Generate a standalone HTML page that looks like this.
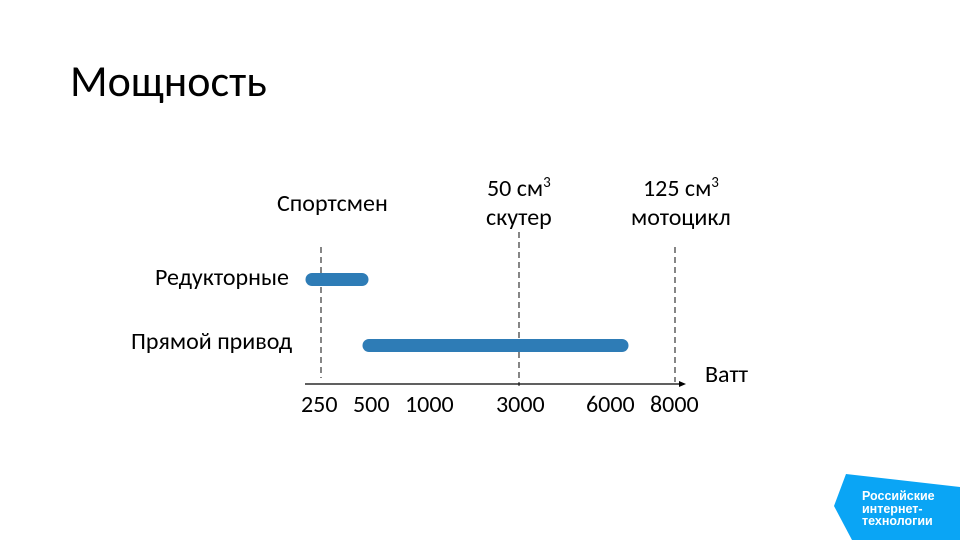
<!DOCTYPE html>
<html><head><meta charset="utf-8"><style>
html,body{margin:0;padding:0;width:960px;height:540px;overflow:hidden;background:#fff;font-family:"Liberation Sans",sans-serif;}
.t{position:absolute;white-space:nowrap;color:#000;font-family:"Carlito","Liberation Sans",sans-serif;font-size:24px;line-height:28px;}
sup{line-height:0;vertical-align:9px;font-size:15px;}
</style></head><body>
<div class="t" style="left:70px;top:56px;font-size:44px;line-height:50px;">Мощность</div>
<svg width="960" height="540" style="position:absolute;left:0;top:0">
<g stroke="#444" stroke-width="1.3" stroke-dasharray="6,4">
<line x1="321" y1="247" x2="321" y2="378"/>
<line x1="519" y1="232" x2="519" y2="386"/>
<line x1="675" y1="247" x2="675" y2="382"/>
</g>
<line x1="305" y1="384" x2="681" y2="384" stroke="#000" stroke-width="1.2"/>
<polygon points="686,384 679,381 679,387" fill="#000"/>
<line x1="312" y1="279.5" x2="362" y2="279.5" stroke="#2e7cb6" stroke-width="13" stroke-linecap="round"/>
<line x1="369" y1="345.5" x2="622" y2="345.5" stroke="#2e7cb6" stroke-width="13" stroke-linecap="round"/>
<polygon points="846,474 960,487 960,540 852,540 834,506" fill="#0aa5f5"/>
</svg>
<div class="t" style="left:277px;top:190px;">Спортсмен</div>
<div class="t" style="left:487px;top:175px;">50 см<sup>3</sup></div>
<div class="t" style="left:486px;top:204px;">скутер</div>
<div class="t" style="left:643px;top:175px;">125 см<sup>3</sup></div>
<div class="t" style="left:631px;top:204px;">мотоцикл</div>
<div class="t" style="left:155px;top:264px;">Редукторные</div>
<div class="t" style="left:131px;top:328px;">Прямой привод</div>
<div class="t" style="left:705px;top:361px;">Ватт</div>
<div class="t" style="left:301px;top:391px;">250</div>
<div class="t" style="left:353px;top:391px;">500</div>
<div class="t" style="left:405px;top:391px;">1000</div>
<div class="t" style="left:496px;top:391px;">3000</div>
<div class="t" style="left:586px;top:391px;">6000</div>
<div class="t" style="left:650px;top:391px;">8000</div>
<div style="position:absolute;left:862px;top:490px;font-size:12.5px;font-weight:bold;color:#fff;line-height:12.5px;font-family:'Liberation Sans',sans-serif;white-space:nowrap;">Российские<br>интернет-<br>технологии</div>
</body></html>
